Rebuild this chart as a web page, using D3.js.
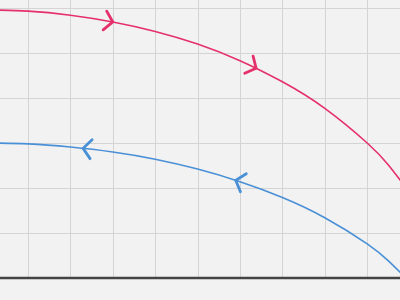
<!DOCTYPE html>
<html>
<head>
<meta charset="utf-8">
<script src="https://cdn.jsdelivr.net/npm/d3@7"></script>
<style>
html,body{margin:0;padding:0;background:#f2f2f2;overflow:hidden;}
svg{display:block;}
</style>
</head>
<body>
<svg id="chart" width="400" height="300"></svg>
<script>
// x values (grid units) shared by both series
const xValues = [0, 1, 2, 3, 4, 5, 6, 7, 8, 9, 9.5, 10];
// upper (red) series, y in grid units
const redValues  = [5.96, 5.93, 5.84, 5.69, 5.48, 5.20, 4.83, 4.36, 3.77, 3.00, 2.51, 1.90];
// lower (blue) series
const blueValues = [3.00, 2.98, 2.91, 2.80, 2.64, 2.42, 2.14, 1.79, 1.34, 0.76, 0.38, -0.08];
// arrow positions (x in grid units)
const redArrows  = [3.0, 6.38];
const blueArrows = [2.3, 5.9];
const xTicks = [1, 2, 3, 4, 5, 6, 7, 8, 9];
const yTicks = [1, 2, 3, 4, 5, 6];

const W = 400, H = 300;
const svg = d3.select("#chart");
const x = d3.scaleLinear().domain([0, 10]).range([-14.4, 409.6]);
const y = d3.scaleLinear().domain([0, 6]).range([278, 8]);

svg.append("rect").attr("width", W).attr("height", H).attr("fill", "#f2f2f2");

// grid
svg.append("g").selectAll("line").data(xTicks).join("line")
  .attr("x1", d => Math.round(x(d)) + 0.5).attr("x2", d => Math.round(x(d)) + 0.5)
  .attr("y1", 0).attr("y2", y(0))
  .attr("stroke", "#d4d4d4").attr("stroke-width", 1);
svg.append("g").selectAll("line").data(yTicks).join("line")
  .attr("y1", d => Math.round(y(d)) + 0.5).attr("y2", d => Math.round(y(d)) + 0.5)
  .attr("x1", 0).attr("x2", W)
  .attr("stroke", "#d4d4d4").attr("stroke-width", 1);

const line = d3.line().x(d => x(d[0])).y(d => y(d[1])).curve(d3.curveNatural);

function drawSeries(vals, color, arrows, dir) {
  const pts = xValues.map((v, i) => [v, vals[i]]);
  const path = svg.append("path").datum(pts)
    .attr("d", line).attr("fill", "none")
    .attr("stroke", color).attr("stroke-width", 1.6);
  const node = path.node();
  const total = node.getTotalLength();
  function atX(px) {
    let lo = 0, hi = total;
    for (let k = 0; k < 40; k++) {
      const mid = (lo + hi) / 2;
      if (node.getPointAtLength(mid).x < px) lo = mid; else hi = mid;
    }
    return lo;
  }
  arrows.forEach(a => {
    const L = atX(x(a));
    const p = node.getPointAtLength(L);
    const p1 = node.getPointAtLength(Math.max(0, L - 2));
    const p2 = node.getPointAtLength(Math.min(total, L + 2));
    let ang = Math.atan2(p2.y - p1.y, p2.x - p1.x) * 180 / Math.PI;
    if (dir < 0) ang += 180;
    svg.append("path")
      .attr("d", "M-8,-9.5 L0,0 L-8,9.5")
      .attr("transform", `translate(${p.x},${p.y}) rotate(${ang})`)
      .attr("fill", "none").attr("stroke", color)
      .attr("stroke-width", 2.8).attr("stroke-linecap", "round").attr("stroke-linejoin", "miter");
  });
}

drawSeries(redValues, "#e5306b", redArrows, 1);
drawSeries(blueValues, "#4a90d6", blueArrows, -1);

// x axis baseline
svg.append("line").attr("x1", 0).attr("x2", W)
  .attr("y1", y(0)).attr("y2", y(0))
  .attr("stroke", "#444").attr("stroke-width", 2.5);
</script>
</body>
</html>
